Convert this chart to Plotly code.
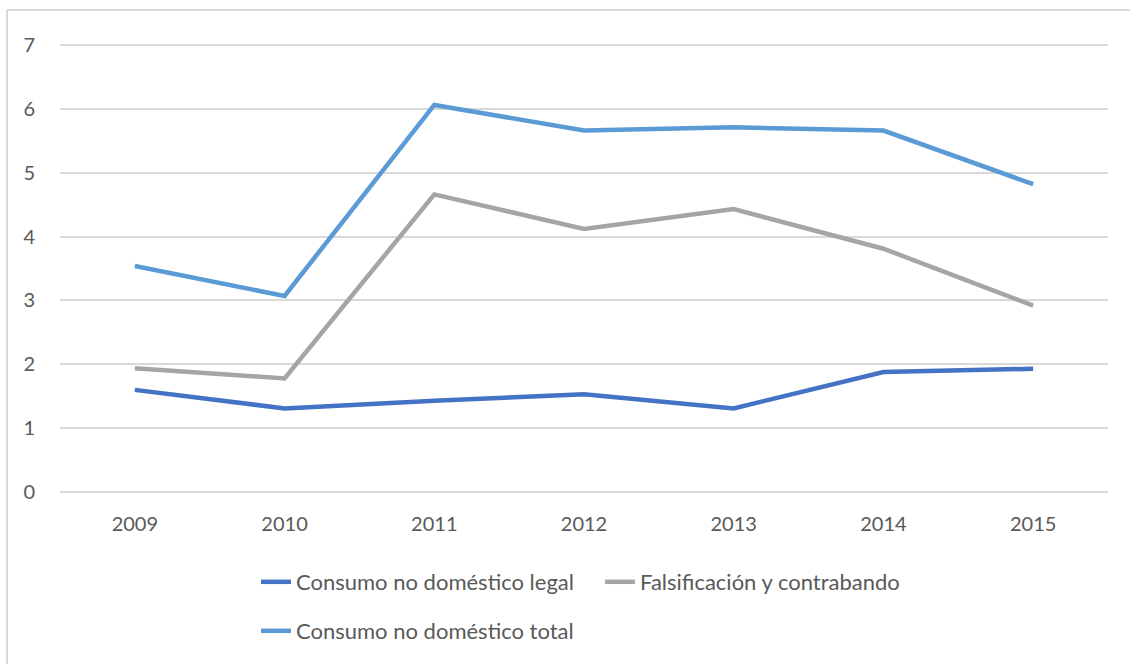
import plotly.graph_objects as go

years = ["2009", "2010", "2011", "2012", "2013", "2014", "2015"]
legal = [1.60, 1.31, 1.43, 1.53, 1.31, 1.88, 1.93]
falsif = [1.94, 1.78, 4.66, 4.12, 4.43, 3.81, 2.92]
total = [3.54, 3.07, 6.06, 5.66, 5.71, 5.66, 4.82]

names = ["Consumo no doméstico legal", "Falsificación y contrabando", "Consumo no doméstico total"]
colors = ["#4472C4", "#A5A5A5", "#5B9BD5"]
yticks = [0, 1, 2, 3, 4, 5, 6, 7]

FONT = "Lato"
TXT = "#595959"

fig = go.Figure()
for name, vals, col, lg in zip(names, [legal, falsif, total], colors, ["legend", "legend", "legend2"]):
    fig.add_trace(go.Scatter(x=years, y=vals, mode="lines", name=name,
                             line=dict(color=col, width=4.5), legend=lg))

W, H = 1130, 664
L, R, T, B = 60, 22, 43, 170
pw = W - L - R
ph = H - T - B

def px(pix):
    return (pix - L) / pw

def py(pix):
    return (H - B - pix) / ph

legend_common = dict(orientation="h", xanchor="left", yanchor="middle",
                     font=dict(family=FONT, size=22, color=TXT),
                     bgcolor="rgba(0,0,0,0)", entrywidth=299, itemwidth=30,
                     tracegroupgap=0)

fig.update_layout(
    width=W, height=H,
    margin=dict(l=L, r=R, t=T, b=B),
    paper_bgcolor="white", plot_bgcolor="white",
    font=dict(family=FONT, size=20, color=TXT),
    showlegend=True,
    legend=dict(x=px(256), y=py(582), **legend_common),
    legend2=dict(x=px(256), y=py(631), **legend_common),
    xaxis=dict(type="category", range=[-0.5, 6.5], showgrid=False, zeroline=False,
               showline=False, ticks="outside", ticklen=12, tickcolor="rgba(0,0,0,0)",
               tickfont=dict(family=FONT, size=20, color=TXT)),
    yaxis=dict(range=[-0.03, 7.03], tickvals=yticks, showgrid=True, gridcolor="#D9D9D9",
               gridwidth=1.5, zeroline=False, showline=False, ticks="outside",
               ticklen=20, tickcolor="rgba(0,0,0,0)",
               tickfont=dict(family=FONT, size=20, color=TXT)),
    shapes=[
        dict(type="line", xref="paper", yref="paper",
             x0=px(7), x1=px(W + 5), y0=py(10), y1=py(10),
             line=dict(color="#D9D9D9", width=2)),
        dict(type="line", xref="paper", yref="paper",
             x0=px(7), x1=px(7), y0=py(10), y1=py(H + 5),
             line=dict(color="#D9D9D9", width=2)),
    ],
)

fig.write_html("out.html", config={"displayModeBar": False},
               post_script="document.body.style.margin='0';")
